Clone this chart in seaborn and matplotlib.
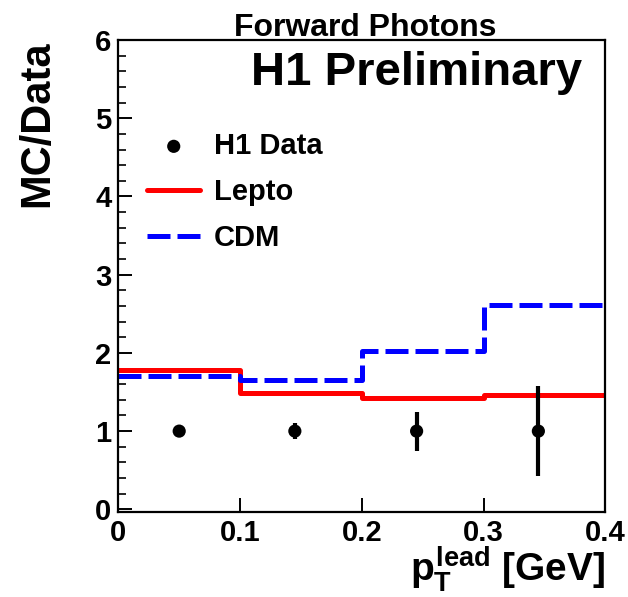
import matplotlib
matplotlib.use("Agg")
import matplotlib.pyplot as plt
from matplotlib.ticker import MultipleLocator
import seaborn as sns
import pandas as pd

# bin edges in pT lead [GeV] and MC/Data ratios per bin
edges = [0.0, 0.1, 0.2, 0.3, 0.4]
lepto = [1.78, 1.49, 1.42, 1.46]
cdm = [1.70, 1.65, 2.03, 2.61]

# H1 data points (ratio = 1 by construction)
data_x = [0.05, 0.145, 0.245, 0.345]
data_y = [1.0, 1.0, 1.0, 1.0]
data_err = [0.02, 0.10, 0.25, 0.58]

sns.set_style("ticks")
plt.rcParams['font.family'] = ['Liberation Sans', 'DejaVu Sans']
plt.rcParams['font.weight'] = 'bold'
plt.rcParams['mathtext.fontset'] = 'custom'
plt.rcParams['mathtext.rm'] = 'Liberation Sans:bold'
plt.rcParams['mathtext.it'] = 'Liberation Sans:bold'
plt.rcParams['mathtext.bf'] = 'Liberation Sans:bold'
for key in ['text.color', 'axes.labelcolor', 'xtick.color', 'ytick.color',
            'xtick.labelcolor', 'ytick.labelcolor', 'axes.edgecolor']:
    plt.rcParams[key] = 'black'

fig = plt.figure(figsize=(6.28, 5.97), dpi=100)
ax = fig.add_axes([0.1884, 0.1429, 0.7755, 0.7901])

steps = pd.DataFrame({'x': edges,
                      'lepto': lepto + [lepto[-1]],
                      'cdm': cdm + [cdm[-1]]})

ax.errorbar(data_x, data_y, yerr=data_err, fmt='none', ecolor='black',
            elinewidth=3, zorder=4)
sns.scatterplot(x=data_x, y=data_y, ax=ax, color='black', s=90,
                edgecolor='none', label='H1 Data', zorder=5)
sns.lineplot(data=steps, x='x', y='lepto', ax=ax, drawstyle='steps-post',
             color='#ff0000', linewidth=3.6, label='Lepto')
sns.lineplot(data=steps, x='x', y='cdm', ax=ax, drawstyle='steps-post',
             color='#0000ff', linewidth=3.6, dashes=(4.6, 1.4), label='CDM')

ax.set_xlim(0, 0.4)
ax.set_ylim(-0.03, 6.0)
ax.yaxis.set_major_locator(MultipleLocator(1))
ax.yaxis.set_minor_locator(MultipleLocator(0.2))
ax.set_xticks([0, 0.1, 0.2, 0.3, 0.4], ['0', '0.1', '0.2', '0.3', '0.4'])
ax.tick_params(axis='both', which='major', direction='in', length=10,
               width=1.4, labelsize=21, color='black')
ax.tick_params(axis='x', pad=5)
ax.tick_params(axis='y', pad=5)
ax.tick_params(axis='y', which='minor', direction='in', length=5.5, width=1.2)
for s in ax.spines.values():
    s.set_linewidth(1.6)
    s.set_color('black')

ax.set_ylabel('MC/Data', fontsize=30, fontweight='bold', loc='top')
ax.yaxis.set_label_coords(-0.125, 1.0)
ax.set_xlabel(r'$p_{T}^{lead}$ [GeV]', fontsize=28, fontweight='bold', loc='right')
ax.xaxis.set_label_coords(1.0, -0.07)

ax.text(0.952, 0.905, 'H1 Preliminary', transform=ax.transAxes, ha='right',
        va='baseline', fontsize=34, fontweight='bold')
fig.text(0.581, 1 - 36 / 597, 'Forward Photons', ha='center', va='baseline',
         fontsize=23, fontweight='bold')

handles, labels = ax.get_legend_handles_labels()
order = [labels.index(n) for n in ['H1 Data', 'Lepto', 'CDM']]
ax.legend([handles[i] for i in order], [labels[i] for i in order],
          loc='upper left', bbox_to_anchor=(0.059, 0.805), frameon=False,
          fontsize=21, handlelength=1.83, handletextpad=0.45,
          labelspacing=0.62, borderpad=0, borderaxespad=0)

fig.savefig('out.png', dpi=100)
